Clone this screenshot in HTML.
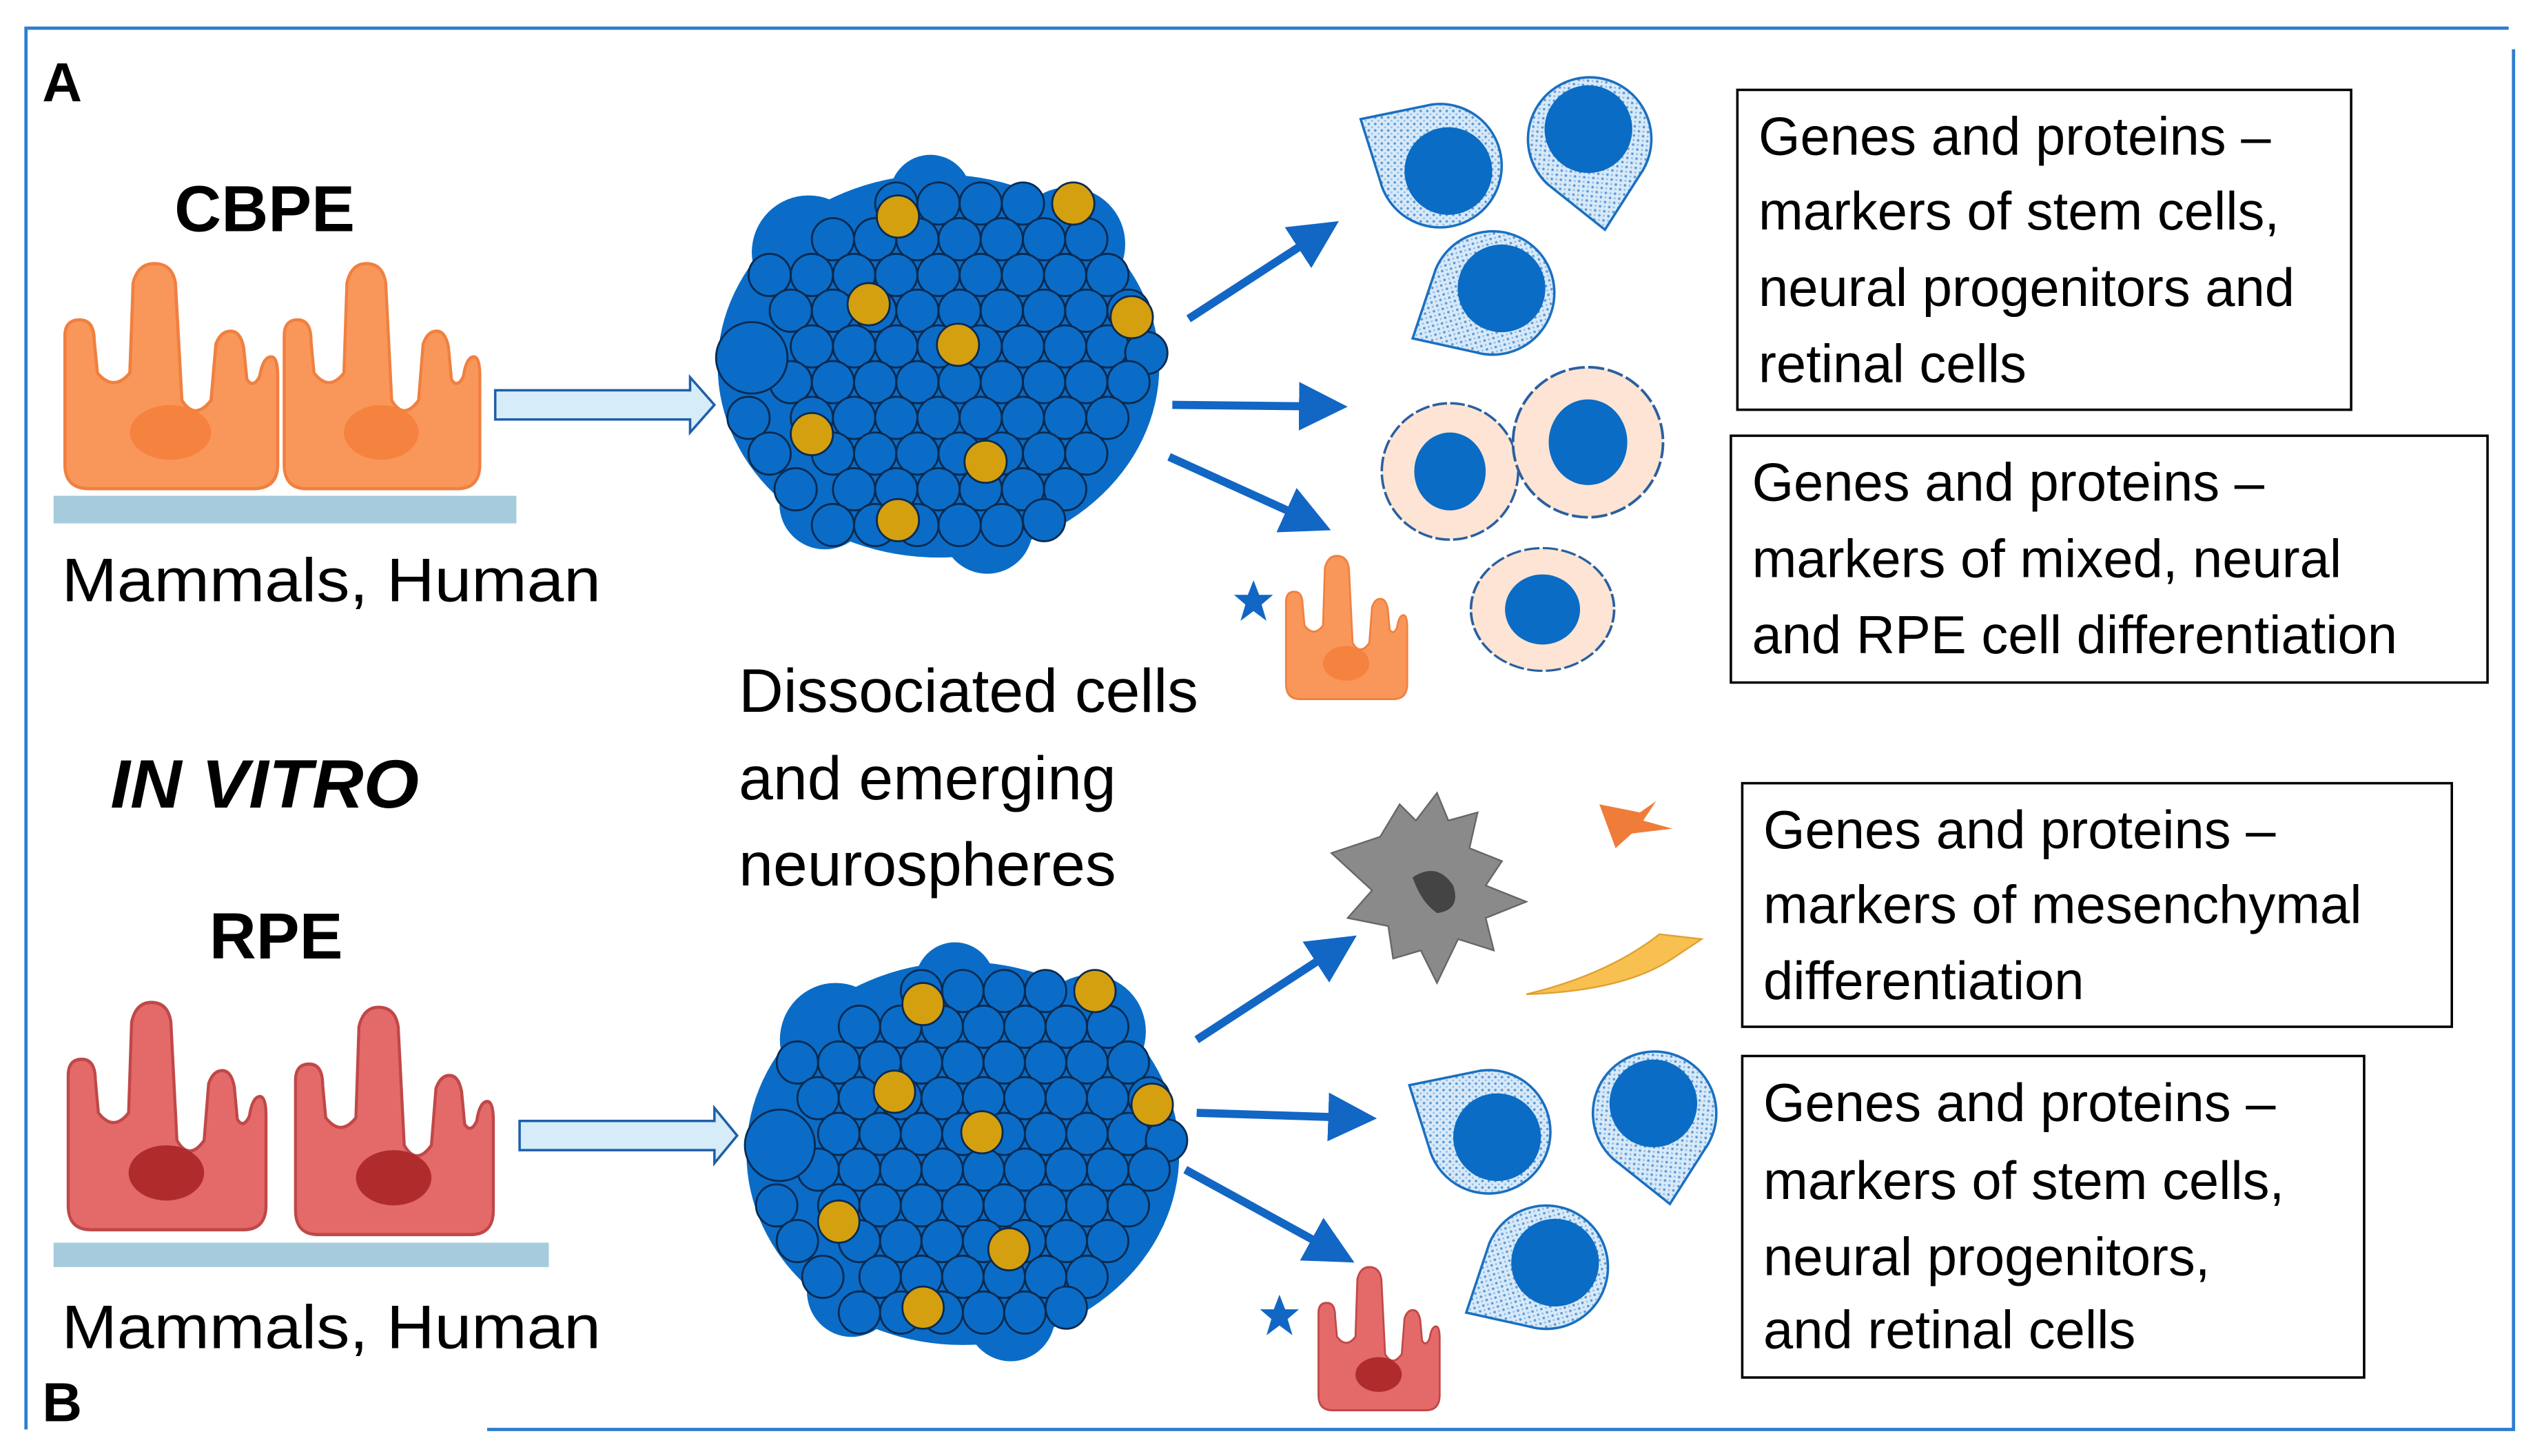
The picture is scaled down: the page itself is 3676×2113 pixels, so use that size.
<!DOCTYPE html>
<html><head><meta charset="utf-8"><style>
html,body{margin:0;padding:0;background:#fff}
svg{display:block}
text{font-family:"Liberation Sans",sans-serif;fill:#000}
</style></head><body>
<svg width="3676" height="2113" viewBox="0 0 1560 896" xmlns="http://www.w3.org/2000/svg">
<defs>
<pattern id="dots" width="4" height="4" patternUnits="userSpaceOnUse"><rect width="4" height="4" fill="#d8e9f8"/><circle cx="1" cy="1" r="0.8" fill="#5b9bd8"/><circle cx="3" cy="3" r="0.6" fill="#8fbce6"/></pattern>
<marker id="ah" markerWidth="6" markerHeight="6" refX="3" refY="3" orient="auto" markerUnits="strokeWidth"><path d="M0,0 L6,3 L0,6 Z" fill="#1266c4"/></marker>
<g id="sph">
<ellipse cx="0" cy="0" rx="136" ry="118" fill="#0a6cc6"/>
<circle cx="-80" cy="-70" r="35" fill="#0a6cc6"/><circle cx="80" cy="-75" r="35" fill="#0a6cc6"/><circle cx="-5" cy="-105" r="25" fill="#0a6cc6"/><circle cx="30" cy="100" r="28" fill="#0a6cc6"/><circle cx="-70" cy="85" r="28" fill="#0a6cc6"/>
<g fill="#0a6cc6" stroke="#0a2a50" stroke-width="1.2">
<circle cx="-26" cy="-100" r="13"/><circle cx="0" cy="-100" r="13"/><circle cx="26" cy="-100" r="13"/><circle cx="52" cy="-100" r="13"/>
<circle cx="-65" cy="-78" r="13"/><circle cx="-39" cy="-78" r="13"/><circle cx="-13" cy="-78" r="13"/><circle cx="13" cy="-78" r="13"/><circle cx="39" cy="-78" r="13"/><circle cx="65" cy="-78" r="13"/><circle cx="91" cy="-78" r="13"/>
<circle cx="-104" cy="-56" r="13"/><circle cx="-78" cy="-56" r="13"/><circle cx="-52" cy="-56" r="13"/><circle cx="-26" cy="-56" r="13"/><circle cx="0" cy="-56" r="13"/><circle cx="26" cy="-56" r="13"/><circle cx="52" cy="-56" r="13"/><circle cx="78" cy="-56" r="13"/><circle cx="104" cy="-56" r="13"/>
<circle cx="-91" cy="-34" r="13"/><circle cx="-65" cy="-34" r="13"/><circle cx="-39" cy="-34" r="13"/><circle cx="-13" cy="-34" r="13"/><circle cx="13" cy="-34" r="13"/><circle cx="39" cy="-34" r="13"/><circle cx="65" cy="-34" r="13"/><circle cx="91" cy="-34" r="13"/><circle cx="117" cy="-34" r="13"/>
<circle cx="-78" cy="-12" r="13"/><circle cx="-52" cy="-12" r="13"/><circle cx="-26" cy="-12" r="13"/><circle cx="0" cy="-12" r="13"/><circle cx="26" cy="-12" r="13"/><circle cx="52" cy="-12" r="13"/><circle cx="78" cy="-12" r="13"/><circle cx="104" cy="-12" r="13"/><circle cx="128" cy="-8" r="13"/>
<circle cx="-91" cy="10" r="13"/><circle cx="-65" cy="10" r="13"/><circle cx="-39" cy="10" r="13"/><circle cx="-13" cy="10" r="13"/><circle cx="13" cy="10" r="13"/><circle cx="39" cy="10" r="13"/><circle cx="65" cy="10" r="13"/><circle cx="91" cy="10" r="13"/><circle cx="117" cy="10" r="13"/>
<circle cx="-117" cy="32" r="13"/><circle cx="-78" cy="32" r="13"/><circle cx="-52" cy="32" r="13"/><circle cx="-26" cy="32" r="13"/><circle cx="0" cy="32" r="13"/><circle cx="26" cy="32" r="13"/><circle cx="52" cy="32" r="13"/><circle cx="78" cy="32" r="13"/><circle cx="104" cy="32" r="13"/>
<circle cx="-104" cy="54" r="13"/><circle cx="-65" cy="54" r="13"/><circle cx="-39" cy="54" r="13"/><circle cx="-13" cy="54" r="13"/><circle cx="13" cy="54" r="13"/><circle cx="39" cy="54" r="13"/><circle cx="65" cy="54" r="13"/><circle cx="91" cy="54" r="13"/>
<circle cx="-88" cy="76" r="13"/><circle cx="-52" cy="76" r="13"/><circle cx="-26" cy="76" r="13"/><circle cx="0" cy="76" r="13"/><circle cx="26" cy="76" r="13"/><circle cx="52" cy="76" r="13"/><circle cx="78" cy="76" r="13"/>
<circle cx="-65" cy="98" r="13"/><circle cx="-39" cy="98" r="13"/><circle cx="-13" cy="98" r="13"/><circle cx="13" cy="98" r="13"/><circle cx="39" cy="98" r="13"/><circle cx="65" cy="95" r="13"/>
<circle cx="-115" cy="-5" r="22"/>
</g>
<g fill="#d4a010" stroke="#0a2a50" stroke-width="1.2">
<circle cx="-25" cy="-92" r="13"/><circle cx="83" cy="-100" r="13"/><circle cx="-43" cy="-38" r="13"/><circle cx="12" cy="-13" r="13"/><circle cx="119" cy="-30" r="13"/><circle cx="-78" cy="42" r="13"/><circle cx="29" cy="59" r="13"/><circle cx="-25" cy="95" r="13"/>
</g>
</g>
<path id="cellshape" d="M0,125 L0,45 Q0,35 9,35 Q18,35 18,48 L20,68 Q30,80 40,68 L42,12 Q45,0 55,0 Q66,0 68,12 L72,85 Q80,98 90,85 L93,50 Q96,42 102,42 Q108,42 110,52 L112,72 Q116,78 120,70 Q122,58 127,58 Q131,58 131,70 L131,125 Q131,140 116,140 L15,140 Q0,140 0,125 Z"/>
<g id="ocell"><use href="#cellshape" fill="#f9975a" stroke="#f08040" stroke-width="2"/><ellipse cx="65" cy="105" rx="25" ry="17" fill="#f5823f"/></g>
<g id="rcell"><use href="#cellshape" fill="#e46a6a" stroke="#c04848" stroke-width="2"/><ellipse cx="65" cy="105" rx="25" ry="17" fill="#b02c2c"/></g>
<g id="tear"><path d="M-52,-30 L-8,-39 A38,38 0 1 1 -40,8 Z" fill="url(#dots)" stroke="#1a6fc0" stroke-width="1.5"/><ellipse cx="2" cy="2" rx="27" ry="27" fill="#0a6cc4"/></g>
<g id="flow"><circle r="42" fill="#fde4d4" stroke="#2a5fa0" stroke-width="1.5" stroke-dasharray="9 2"/><ellipse cx="0" cy="0" rx="22" ry="24" fill="#0a6cc4"/></g>
<path id="star" d="M0,-13 L3.5,-4 L12,-4 L5,2 L8,12 L0,6 L-8,12 L-5,2 L-12,-4 L-3.5,-4 Z" fill="#1266c4"/>
</defs>

<path d="M16,880 L16,17 L1545,17" fill="none" stroke="#2e7dd0" stroke-width="2"/>
<path d="M1548,30 L1548,880 L300,880" fill="none" stroke="#2e7dd0" stroke-width="2"/>
<text x="26" y="62" font-size="34" font-weight="bold">A</text>
<text x="26" y="875" font-size="34" font-weight="bold">B</text>

<text x="163" y="142" font-size="40" font-weight="bold" text-anchor="middle">CBPE</text>
<use href="#ocell" transform="translate(40,162) scale(1,0.99)"/>
<use href="#ocell" transform="translate(175,162) scale(0.92,0.99)"/>
<rect x="33" y="305" width="285" height="17" fill="#a6cbdc"/>
<text x="38" y="370" font-size="38" textLength="332" lengthAdjust="spacingAndGlyphs">Mammals, Human</text>
<path d="M305,240 L425,240 L425,232 L440,249 L425,266 L425,258 L305,258 Z" fill="#d6ecf8" stroke="#1f5fa8" stroke-width="1.5"/>
<use href="#sph" transform="translate(578,225)"/>
<line x1="732" y1="196" x2="812" y2="144" stroke="#1266c4" stroke-width="5" marker-end="url(#ah)"/>
<line x1="722" y1="249" x2="815" y2="250" stroke="#1266c4" stroke-width="5" marker-end="url(#ah)"/>
<line x1="720" y1="281" x2="806" y2="320" stroke="#1266c4" stroke-width="5" marker-end="url(#ah)"/>
<use href="#tear" transform="translate(890,103)"/>
<use href="#tear" transform="translate(978,82) rotate(-130)"/>
<use href="#tear" transform="translate(922,178) rotate(-60)"/>
<use href="#flow" transform="translate(893,290)"/>
<use href="#flow" transform="translate(978,272) scale(1.1)"/>
<use href="#flow" transform="translate(950,375) scale(1.05,0.9)"/>
<use href="#star" transform="translate(772,370)"/>
<use href="#ocell" transform="translate(792,342) scale(0.57,0.63)"/>

<rect x="1070" y="55" width="378" height="197" fill="none" stroke="#000" stroke-width="1.5"/>
<text font-size="33" x="1083"><tspan y="95">Genes and proteins –</tspan><tspan x="1083" y="141">markers of stem cells,</tspan><tspan x="1083" y="188">neural progenitors and</tspan><tspan x="1083" y="235">retinal cells</tspan></text>
<rect x="1066" y="268" width="466" height="152" fill="none" stroke="#000" stroke-width="1.5"/>
<text font-size="33" x="1079"><tspan y="308">Genes and proteins –</tspan><tspan x="1079" y="355">markers of mixed, neural</tspan><tspan x="1079" y="402">and RPE cell differentiation</tspan></text>

<text font-size="38" x="455"><tspan y="438">Dissociated cells</tspan><tspan x="455" y="492">and emerging</tspan><tspan x="455" y="545">neurospheres</tspan></text>
<text x="68" y="497" font-size="42" font-weight="bold" font-style="italic" textLength="190" lengthAdjust="spacingAndGlyphs">IN VITRO</text>

<text x="170" y="590" font-size="40" font-weight="bold" text-anchor="middle">RPE</text>
<use href="#rcell" transform="translate(42,617) scale(0.93,1)"/>
<use href="#rcell" transform="translate(182,620) scale(0.93,1)"/>
<rect x="33" y="765" width="305" height="15" fill="#a6cbdc"/>
<text x="38" y="830" font-size="38" textLength="332" lengthAdjust="spacingAndGlyphs">Mammals, Human</text>
<path d="M320,690 L440,690 L440,682 L454,699 L440,716 L440,708 L320,708 Z" fill="#d6ecf8" stroke="#1f5fa8" stroke-width="1.5"/>
<use href="#sph" transform="translate(593,710) scale(0.98,1)"/>
<line x1="737" y1="640" x2="823" y2="584" stroke="#1266c4" stroke-width="5" marker-end="url(#ah)"/>
<line x1="737" y1="685" x2="833" y2="688" stroke="#1266c4" stroke-width="5" marker-end="url(#ah)"/>
<line x1="730" y1="720" x2="821" y2="770" stroke="#1266c4" stroke-width="5" marker-end="url(#ah)"/>
<path d="M820,525 L850,515 L862,495 L872,505 L885,488 L892,505 L910,500 L905,522 L925,530 L915,545 L940,555 L915,565 L920,585 L898,578 L885,605 L875,585 L858,590 L855,570 L830,565 L845,548 Z" fill="#8a8a8a" stroke="#666" stroke-width="1"/>
<path d="M870,540 Q885,530 895,545 Q900,560 885,562 Q875,555 870,540 Z" fill="#444"/>
<path d="M985,495 L1010,500 L1020,493 L1012,505 L1030,510 L1005,513 L995,522 Z" fill="#f07c3a"/>
<path d="M940,612 Q990,600 1022,575 L1048,578 L1030,590 Q1000,610 940,612 Z" fill="#f8c050" stroke="#e0a030" stroke-width="1"/>
<use href="#tear" transform="translate(920,698)"/>
<use href="#tear" transform="translate(1018,682) rotate(-130)"/>
<use href="#tear" transform="translate(955,778) rotate(-60)"/>
<use href="#star" transform="translate(788,810)"/>
<use href="#rcell" transform="translate(812,780) scale(0.57,0.63)"/>

<rect x="1073" y="482" width="437" height="150" fill="none" stroke="#000" stroke-width="1.5"/>
<text font-size="33" x="1086"><tspan y="522">Genes and proteins –</tspan><tspan x="1086" y="568">markers  of mesenchymal</tspan><tspan x="1086" y="615">differentiation</tspan></text>
<rect x="1073" y="650" width="383" height="198" fill="none" stroke="#000" stroke-width="1.5"/>
<text font-size="33" x="1086"><tspan y="690">Genes and proteins –</tspan><tspan x="1086" y="738">markers  of stem cells,</tspan><tspan x="1086" y="785">neural progenitors,</tspan><tspan x="1086" y="830">and retinal cells</tspan></text>
</svg>
</body></html>
